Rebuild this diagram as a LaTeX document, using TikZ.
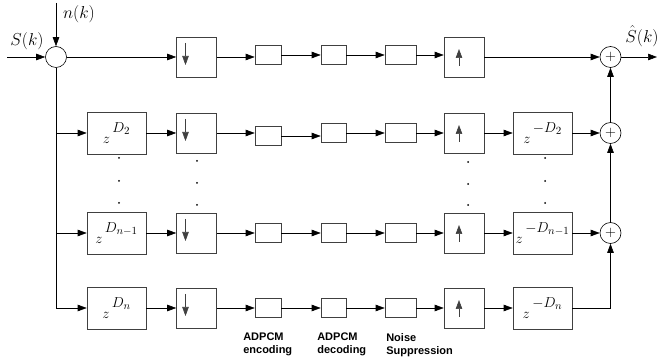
\documentclass[tikz,border=0pt]{standalone}
\usepackage{fontspec}
\newfontfamily\lblfont{Liberation Sans}
\usetikzlibrary{arrows.meta}
\newcommand{\zdelay}[1]{$z\,\raisebox{11pt}{$#1$}$}

\begin{document}
\begin{tikzpicture}[x=1pt,y=-1pt,line width=0.6pt,>={Triangle[length=9pt,width=6.5pt]},
   blk/.style={draw=black!75,inner sep=0pt},
   codebox/.style={blk,minimum height=19pt},
   dlybox/.style={blk,minimum width=59pt,minimum height=42pt,font=\fontsize{15}{17}\selectfont},
   dnbox/.style={blk,minimum size=40pt,path picture={\draw[->] ([xshift=9pt,yshift=-6pt]path picture bounding box.north west) -- ++(0pt,-22pt);}},
   upbox/.style={blk,minimum size=40pt,path picture={\draw[->] ([xshift=15pt,yshift=11pt]path picture bounding box.south west) -- ++(0pt,17pt);}},
   sumnode/.style={circle,draw,minimum size=21pt,inner sep=0pt,font=\fontsize{15}{17}\selectfont},
   sig/.style={inner sep=0pt,font=\fontsize{16}{18}\selectfont},
   lbl/.style={anchor=north west,align=left,inner sep=0pt,font=\lblfont\bfseries\fontsize{11}{13}\selectfont}]
   \useasboundingbox (0,0) rectangle (659,363);
   \coordinate (in) at (7,57);
   \coordinate (nin) at (56,3);
   \coordinate (out) at (657,57);
   \coordinate (split2) at (56,133);
   \coordinate (split3) at (56,233);
   \coordinate (split4) at (56,308);
   \node (sum0) at (56,57) [sumnode] {};
   \node (sk) at (27,41) [sig] {$S(k)$};
   \node (nk) at (79,14) [sig] {$n(k)$};
   \node (shat) at (642,36) [sig] {$\hat{S}(k)$};

   \node (dlyL2) at (116.5,133) [dlybox] {\zdelay{D_2}};
   \node (dlyL3) at (116.5,233) [dlybox] {\zdelay{D_{n-1}}};
   \node (dlyL4) at (116.5,308) [dlybox] {\zdelay{D_n}};

   \node (dn1) at (196.5,57) [dnbox] {};
   \node (dn2) at (196.5,133) [dnbox] {};
   \node (dn3) at (196.5,233) [dnbox] {};
   \node (dn4) at (196.5,308) [dnbox] {};

   \node (enc1) at (268,55) [codebox,minimum width=26pt] {};
   \node (enc2) at (268,136) [codebox,minimum width=26pt] {};
   \node (enc3) at (268,233) [codebox,minimum width=26pt] {};
   \node (enc4) at (268,308) [codebox,minimum width=26pt] {};

   \node (dec1) at (333.5,55) [codebox,minimum width=25pt] {};
   \node (dec2) at (333.5,133) [codebox,minimum width=25pt] {};
   \node (dec3) at (333.5,233) [codebox,minimum width=25pt] {};
   \node (dec4) at (333.5,308) [codebox,minimum width=25pt] {};

   \node (nsup1) at (400.5,55) [codebox,minimum width=31pt] {};
   \node (nsup2) at (400.5,133) [codebox,minimum width=31pt] {};
   \node (nsup3) at (400.5,233) [codebox,minimum width=31pt] {};
   \node (nsup4) at (400.5,308) [codebox,minimum width=31pt] {};

   \node (up1) at (464,57) [upbox] {};
   \node (up2) at (464,133) [upbox] {};
   \node (up3) at (464,233) [upbox] {};
   \node (up4) at (464,308) [upbox] {};

   \node (dlyR2) at (542.5,133) [dlybox] {\zdelay{-D_2}};
   \node (dlyR3) at (542.5,233) [dlybox] {\zdelay{-D_{n-1}}};
   \node (dlyR4) at (542.5,308) [dlybox] {\zdelay{-D_n}};

   \node (sum1) at (610.5,57) [sumnode] {$+$};
   \node (sum2) at (610.5,133) [sumnode] {$+$};
   \node (sum3) at (610.5,233) [sumnode] {$+$};

   \node (lblenc) at (243,333) [lbl] {ADPCM\\encoding};
   \node (lbldec) at (317,333) [lbl] {ADPCM\\decoding};
   \node (lblnsup) at (386,333) [lbl] {Noise\\Suppression};

   \draw[->] (in) -- (sum0);
   \draw[->] (nin) -- (sum0);
   \draw (sum0) -- (split4);
   \draw[->] (split2) -- (dlyL2);
   \draw[->] (split3) -- (dlyL3);
   \draw[->] (split4) -- (dlyL4);

   \draw[->] (sum0) -- (dn1);
   \draw[->] (dlyL2) -- (dn2);
   \draw[->] (dlyL3) -- (dn3);
   \draw[->] (dlyL4) -- (dn4);

   \draw[->] (dn1) -- (dn1.east -| enc1.west);
   \draw[->] (dn2) -- (dn2.east -| enc2.west);
   \draw[->] (dn3) -- (enc3);
   \draw[->] (dn4) -- (enc4);

   \draw[->] (enc1) -- (dec1);
   \draw[->] (enc2.east) -- (enc2.east -| dec2.west);
   \draw[->] (enc3) -- (dec3);
   \draw[->] (enc4) -- (dec4);

   \draw[->] (dec1) -- (nsup1);
   \draw[->] (dec2) -- (nsup2);
   \draw[->] (dec3) -- (nsup3);
   \draw[->] (dec4) -- (nsup4);

   \draw[->] (nsup1) -- (nsup1 -| up1.west);
   \draw[->] (nsup2) -- (up2);
   \draw[->] (nsup3) -- (up3);
   \draw[->] (nsup4) -- (up4);

   \draw[->] (up1) -- (sum1);
   \draw[->] (up2) -- (dlyR2);
   \draw[->] (up3) -- (dlyR3);
   \draw[->] (up4) -- (dlyR4);

   \draw[->] (dlyR2) -- (sum2);
   \draw[->] (dlyR3) -- (sum3);
   \draw[->] (dlyR4) -| (sum3);
   \draw[->] (sum3) -- (sum2);
   \draw[->] (sum2) -- (sum1);
   \draw[->] (sum1) -- (out);

   \fill (119,158) circle (1) (119,181) circle (1) (119,203) circle (1);
   \fill (197,161) circle (1) (197,183) circle (1) (197,205) circle (1);
   \fill (468,162) circle (1) (468,184) circle (1) (468,205) circle (1);
   \fill (545,158) circle (1) (545,181) circle (1) (545,203) circle (1);
\end{tikzpicture}
\end{document}
